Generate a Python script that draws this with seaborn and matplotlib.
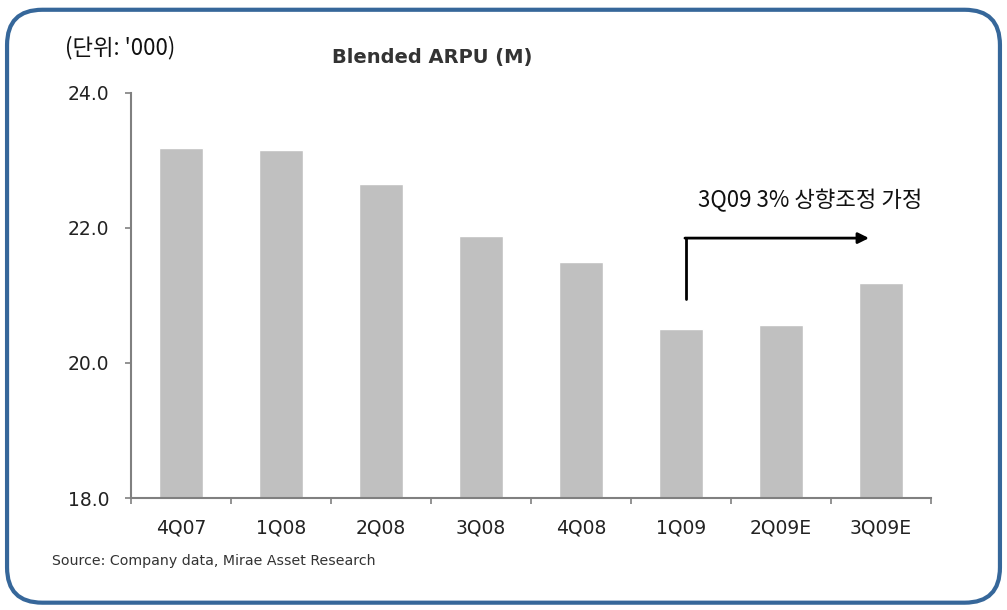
import seaborn as sns
import pandas as pd
import matplotlib.pyplot as plt
from matplotlib.patches import FancyBboxPatch

# data
quarters = ["4Q07", "1Q08", "2Q08", "3Q08", "4Q08", "1Q09", "2Q09E", "3Q09E"]
arpu = [23.18, 23.15, 22.65, 21.88, 21.49, 20.51, 20.57, 21.19]
y_ticks = [18.0, 20.0, 22.0, 24.0]

df = pd.DataFrame({"quarter": quarters, "arpu": arpu})

sns.set_style("ticks")
plt.rcParams['font.family'] = ['DejaVu Sans', 'Noto Sans CJK KR']

fig = plt.figure(figsize=(10.07, 6.1), dpi=100)
ax = fig.add_axes([0.130, 0.1836, 0.7945, 0.664])

sns.barplot(data=df, x="quarter", y="arpu", color="#C0C0C0", width=0.44,
            saturation=1, ax=ax)

ax.set_ylim(18, 24)
ax.set_xlim(-0.5, len(quarters) - 0.5)
ax.set_yticks(y_ticks)
ax.set_yticklabels([f"{t:.1f}" for t in y_ticks], fontsize=13.5, color="#222222")
ax.set_xticks(range(len(quarters)))
ax.set_xticklabels(quarters, fontsize=13.5, color="#222222")
ax.tick_params(axis="x", which="major", length=0, pad=15)
ax.tick_params(axis="y", length=4.5, width=1.2, color="#808080", pad=11)
# category boundary ticks on the x axis
ax.set_xticks([i - 0.5 for i in range(len(quarters) + 1)], minor=True)
ax.tick_params(axis="x", which="minor", length=4.5, width=1.2, color="#808080")
ax.set_xlabel("")
ax.set_ylabel("")
for s in ["top", "right"]:
    ax.spines[s].set_visible(False)
for s in ["left", "bottom"]:
    ax.spines[s].set_color("#808080")
    ax.spines[s].set_linewidth(1.5)

# elbow arrow from 1Q09 to 3Q09E
ax.plot([5.05, 5.05], [20.95, 21.85], color="black", lw=2, clip_on=False)
ax.annotate("", xy=(6.88, 21.85), xytext=(5.04, 21.85),
            arrowprops=dict(arrowstyle="-|>", color="black", lw=2,
                            mutation_scale=16, shrinkA=0, shrinkB=0))
ax.text(6.29, 22.41, "3Q09 3% 상향조정 가정", ha="center", va="center",
        fontsize=16, color="#111111",
        family=['Noto Sans CJK KR', 'DejaVu Sans'])

fig.text(0.065, 0.922, "(단위: '000)", fontsize=16, color="#111111",
         family=['Noto Sans CJK KR', 'DejaVu Sans'], va="center")
fig.text(0.429, 0.906, "Blended ARPU (M)", fontsize=14, fontweight="bold",
         color="#333333", ha="center", va="center")
fig.text(0.052, 0.081, "Source: Company data, Mirae Asset Research",
         fontsize=10.2, color="#333333", va="center")

# rounded blue frame
frame = FancyBboxPatch((0.007, 0.012), 0.986, 0.972,
                       boxstyle="round,pad=0,rounding_size=0.035",
                       transform=fig.transFigure, fill=False,
                       edgecolor="#36679A", linewidth=3, mutation_aspect=1.65)
fig.patches.append(frame)

fig.savefig("out.png", dpi=100)
